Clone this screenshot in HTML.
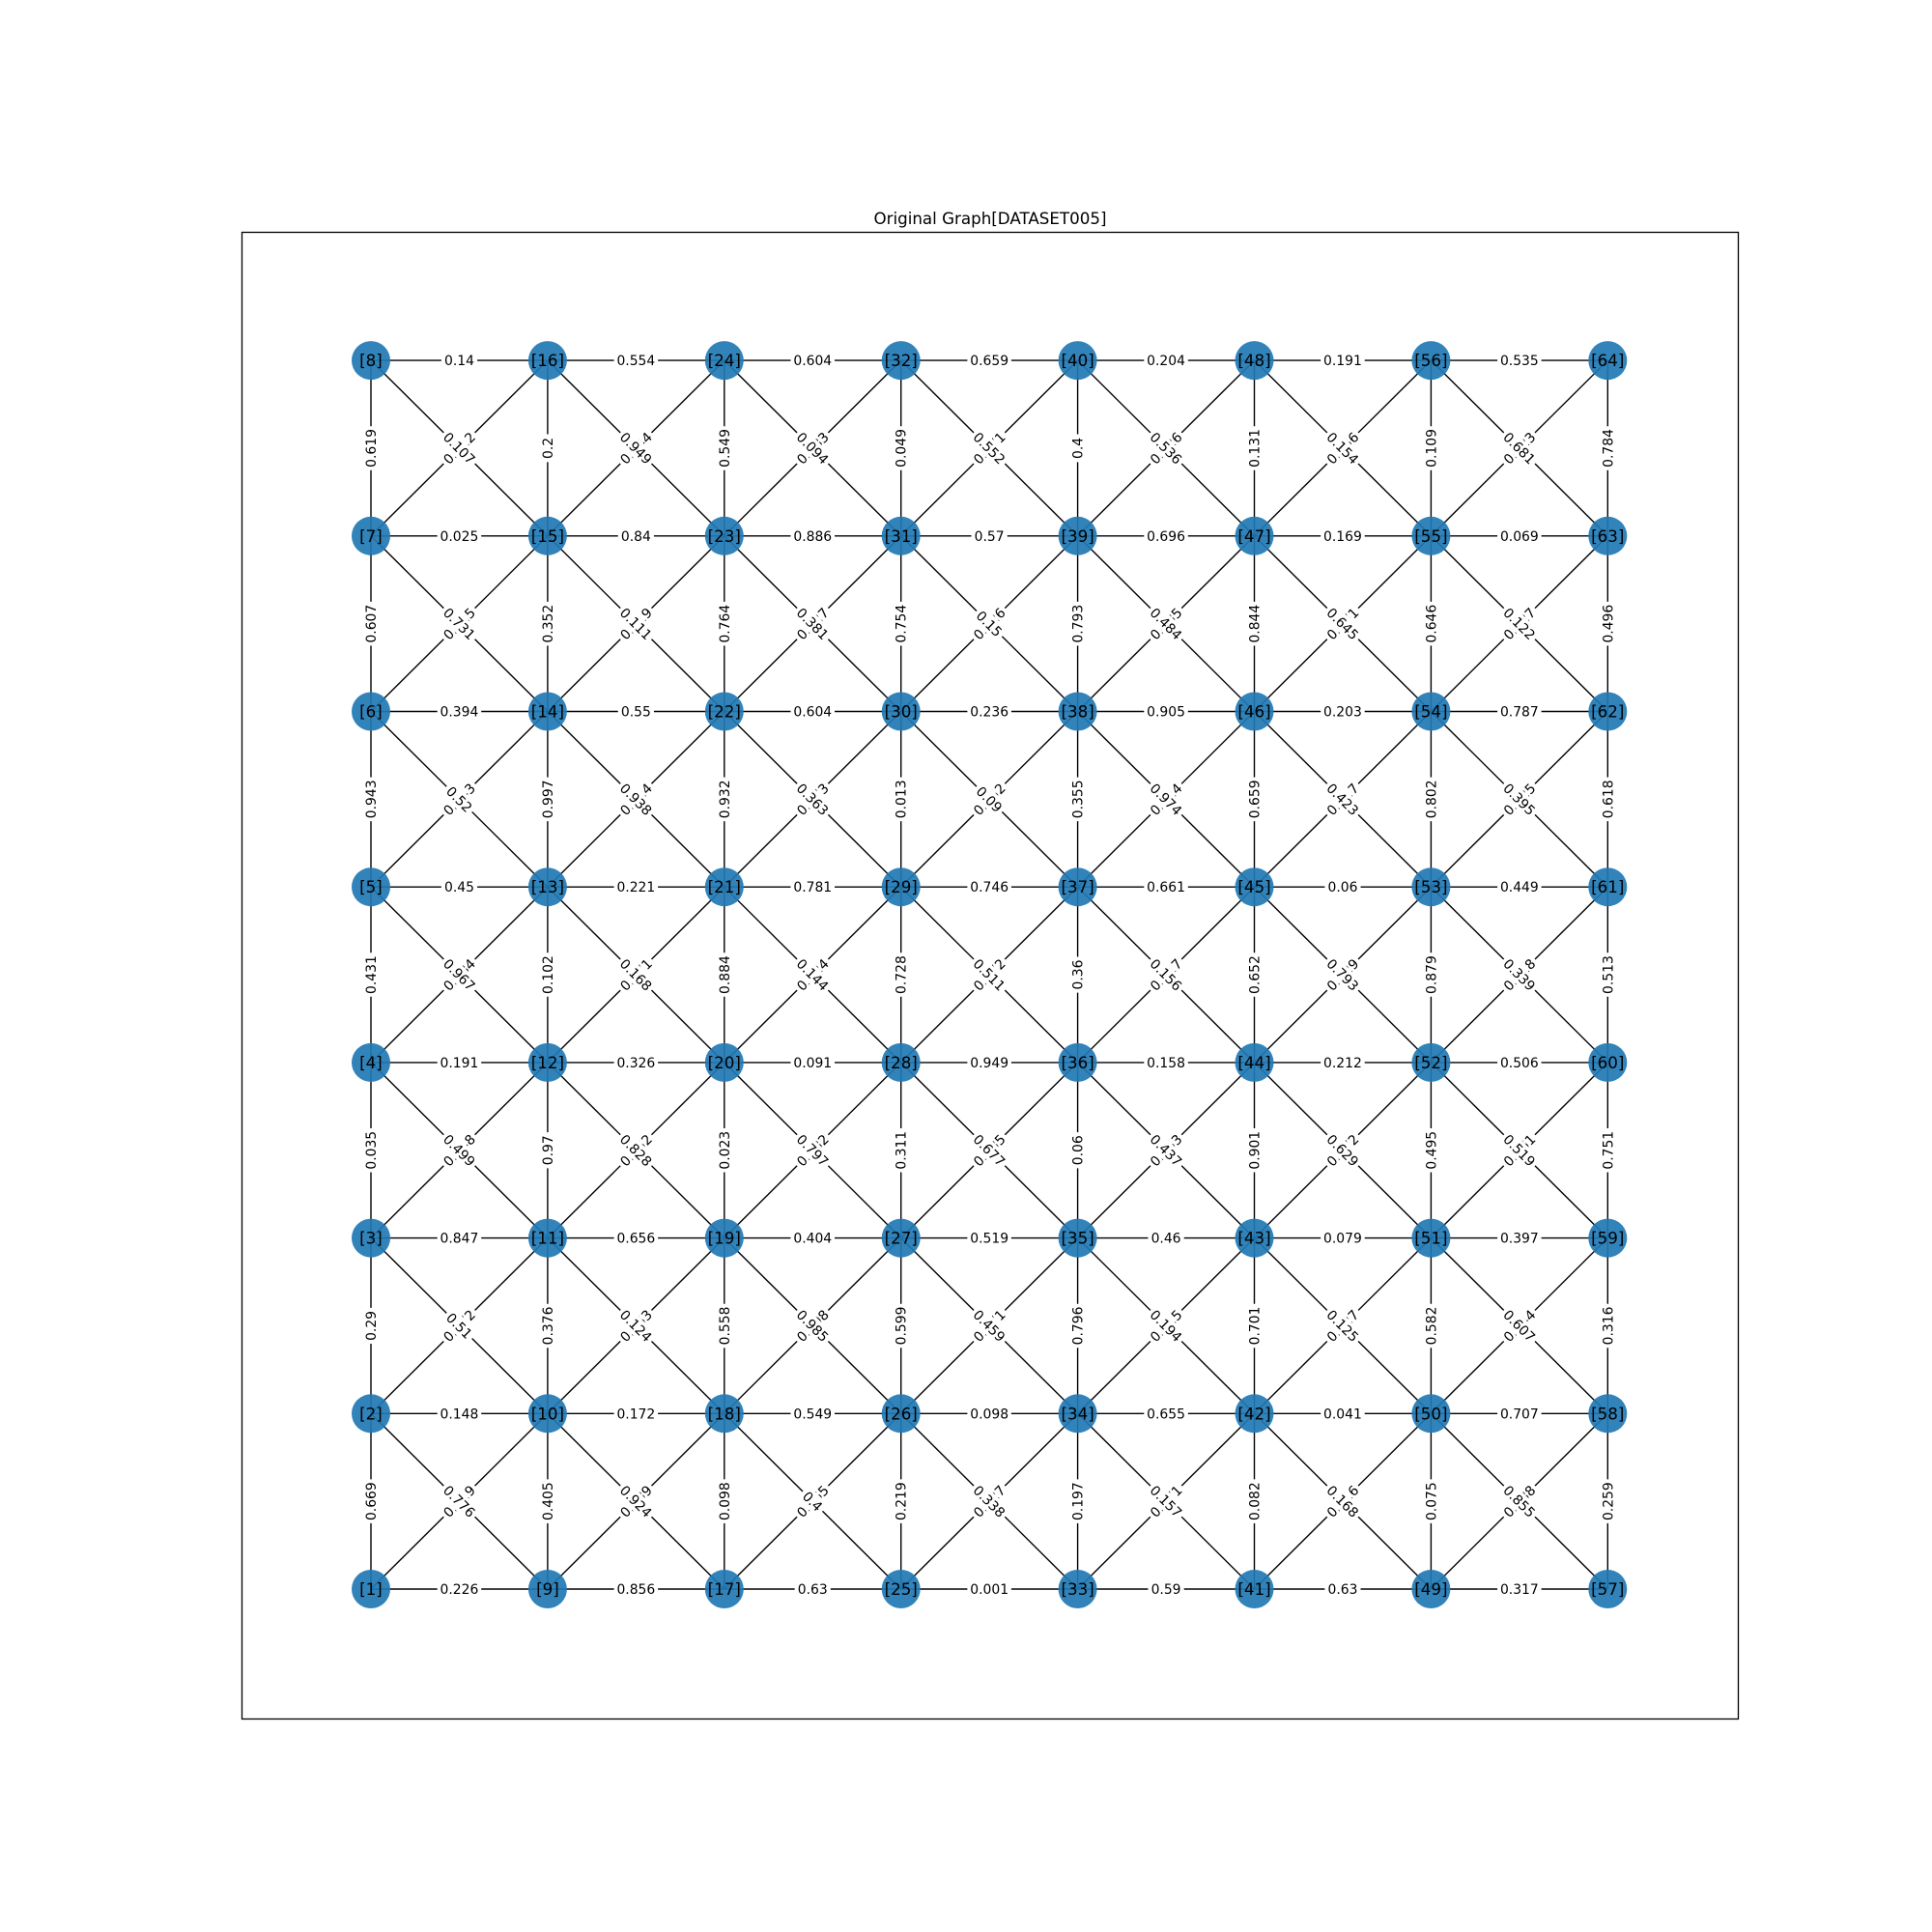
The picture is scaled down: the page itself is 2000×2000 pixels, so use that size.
<!DOCTYPE html>
<html><head><meta charset="utf-8"><style>
html,body{margin:0;padding:0;background:#fff;}
svg{display:block;font-family:"DejaVu Sans","Liberation Sans",sans-serif;}
</style></head><body>
<svg id="chart" width="2000" height="2000" viewBox="0 0 2000 2000" xmlns="http://www.w3.org/2000/svg">
<rect x="0" y="0" width="2000" height="2000" fill="#fff"/>
<text x="1025" y="232" font-size="16.7" text-anchor="middle">Original Graph[DATASET005]</text>
<rect x="250.5" y="240.5" width="1549" height="1539" fill="none" stroke="#000" stroke-width="1.3"/>
<g id="edges"></g><g id="labels"></g><g id="nodes"></g>
</svg>
<script>
// horizontal edge weights, rows from top (r7) to bottom (r0), left to right
const hWeights = [
 [0.14,0.554,0.604,0.659,0.204,0.191,0.535],
 [0.025,0.84,0.886,0.57,0.696,0.169,0.069],
 [0.394,0.55,0.604,0.236,0.905,0.203,0.787],
 [0.45,0.221,0.781,0.746,0.661,0.06,0.449],
 [0.191,0.326,0.091,0.949,0.158,0.212,0.506],
 [0.847,0.656,0.404,0.519,0.46,0.079,0.397],
 [0.148,0.172,0.549,0.098,0.655,0.041,0.707],
 [0.226,0.856,0.63,0.001,0.59,0.63,0.317]
];
// vertical edge weights, by column, top to bottom
const vWeights = [
 [0.619,0.607,0.943,0.431,0.035,0.29,0.669],
 [0.2,0.352,0.997,0.102,0.97,0.376,0.405],
 [0.549,0.764,0.932,0.884,0.023,0.558,0.098],
 [0.049,0.754,0.013,0.728,0.311,0.599,0.219],
 [0.4,0.793,0.355,0.36,0.06,0.796,0.197],
 [0.131,0.844,0.659,0.652,0.901,0.701,0.082],
 [0.109,0.646,0.802,0.879,0.495,0.582,0.075],
 [0.784,0.496,0.618,0.513,0.751,0.316,0.259]
];
// diagonal (top-left to bottom-right) weights, cell rows top to bottom
const dDown = [
 [0.107,0.949,0.094,0.552,0.536,0.154,0.681],
 [0.731,0.111,0.381,0.15,0.484,0.645,0.122],
 [0.52,0.938,0.363,0.09,0.974,0.423,0.395],
 [0.967,0.168,0.144,0.511,0.156,0.793,0.339],
 [0.499,0.828,0.797,0.677,0.437,0.629,0.519],
 [0.51,0.124,0.985,0.459,0.194,0.125,0.607],
 [0.776,0.924,0.4,0.338,0.157,0.168,0.855]
];
// diagonal (bottom-left to top-right) weights
const dUp = [
 [0.212,0.344,0.383,0.271,0.626,0.356,0.523],
 [0.315,0.419,0.227,0.426,0.235,0.271,0.327],
 [0.343,0.314,0.273,0.152,0.314,0.317,0.325],
 [0.284,0.371,0.324,0.172,0.317,0.329,0.318],
 [0.248,0.352,0.282,0.235,0.353,0.172,0.361],
 [0.172,0.353,0.398,0.271,0.315,0.327,0.344],
 [0.119,0.339,0.365,0.327,0.171,0.316,0.388]
];
const X0=384, DX=182.9, Y0=1645, DY=181.7;
function px(col){return X0+col*DX;}
function py(row){return Y0-row*DY;}
const NS="http://www.w3.org/2000/svg";
const eG=document.getElementById('edges'), lG=document.getElementById('labels'), nG=document.getElementById('nodes');
function line(x1,y1,x2,y2,name){
 const l=document.createElementNS(NS,'line');
 l.setAttribute('x1',x1);l.setAttribute('y1',y1);l.setAttribute('x2',x2);l.setAttribute('y2',y2);
 l.setAttribute('stroke','#000');l.setAttribute('stroke-width','1.4');
 
 
 eG.appendChild(l);
}
function label(x,y,rot,val,name){
 const g=document.createElementNS(NS,'g');
 g.setAttribute('transform','translate('+x+','+y+') rotate('+rot+')');
 
 
 const s=String(val);
 const w=s.length*8.3+4;
 const r=document.createElementNS(NS,'rect');
 r.setAttribute('x',-w/2);r.setAttribute('y',-9);r.setAttribute('width',w);r.setAttribute('height',18);
 r.setAttribute('rx',4);r.setAttribute('fill','#fff');
 g.appendChild(r);
 const t=document.createElementNS(NS,'text');
 t.setAttribute('x',0);t.setAttribute('y',5);t.setAttribute('font-size','13.9');t.setAttribute('text-anchor','middle');
 t.textContent=s;
 g.appendChild(t);
 lG.appendChild(g);
}
// horizontal edges
hWeights.forEach((row,i)=>{const r=7-i;row.forEach((w,c)=>{
 line(px(c),py(r),px(c+1),py(r),'edge-h');
 label((px(c)+px(c+1))/2,py(r),0,w,'edge-label');
});});
// vertical edges
vWeights.forEach((col,c)=>{col.forEach((w,i)=>{const r=7-i;
 line(px(c),py(r),px(c),py(r-1),'edge-v');
 label(px(c),(py(r)+py(r-1))/2,-90,w,'edge-label');
});});
// diagonals
dUp.forEach((row,i)=>{const r=7-i;row.forEach((w,c)=>{
 line(px(c),py(r-1),px(c+1),py(r),'edge-diag-up');
});});
dDown.forEach((row,i)=>{const r=7-i;row.forEach((w,c)=>{
 line(px(c),py(r),px(c+1),py(r-1),'edge-diag-down');
});});
dUp.forEach((row,i)=>{const r=7-i;row.forEach((w,c)=>{
 label((px(c)+px(c+1))/2,(py(r)+py(r-1))/2,-45,w,'edge-label');
});});
dDown.forEach((row,i)=>{const r=7-i;row.forEach((w,c)=>{
 label((px(c)+px(c+1))/2,(py(r)+py(r-1))/2,45,w,'edge-label');
});});
// nodes
for(let n=1;n<=64;n++){
 const c=Math.floor((n-1)/8), r=(n-1)%8;
 const g=document.createElementNS(NS,'g');
 
 
 const ci=document.createElementNS(NS,'circle');
 ci.setAttribute('cx',px(c));ci.setAttribute('cy',py(r));ci.setAttribute('r',20);ci.setAttribute('fill','#1f78b4');ci.setAttribute('fill-opacity','0.92');
 g.appendChild(ci);
 const t=document.createElementNS(NS,'text');
 t.setAttribute('x',px(c));t.setAttribute('y',py(r)+6);t.setAttribute('font-size','16.7');t.setAttribute('text-anchor','middle');
 t.textContent='['+n+']';
 g.appendChild(t);
 nG.appendChild(g);
}
</script>
</body></html>
